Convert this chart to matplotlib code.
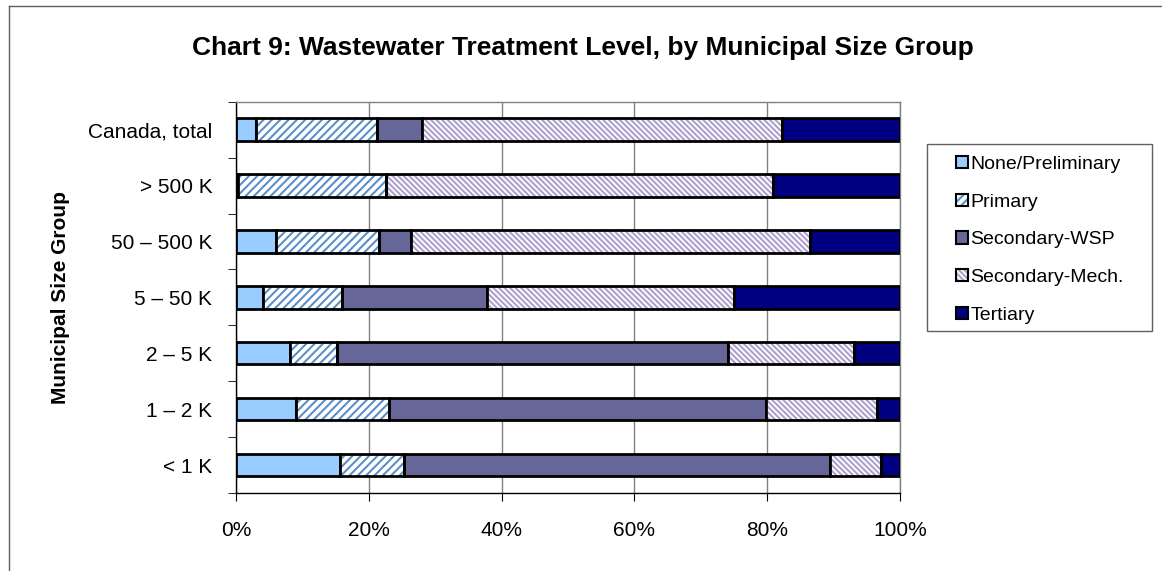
import numpy as np
import matplotlib
matplotlib.use("Agg")
import matplotlib.pyplot as plt
from matplotlib.patches import Patch, Rectangle
from matplotlib.lines import Line2D

plt.rcParams['font.family'] = ['Liberation Sans', 'DejaVu Sans']
plt.rcParams['hatch.linewidth'] = 1.5

# categories from top to bottom
groups = ["Canada, total", "> 500 K", "50 – 500 K", "5 – 50 K", "2 – 5 K", "1 – 2 K", "< 1 K"]
series = ["None/Preliminary", "Primary", "Secondary-WSP", "Secondary-Mech.", "Tertiary"]

# percent shares
none_prelim = [3.0, 0.3, 6.0, 4.0, 8.1, 9.0, 15.7]
primary     = [18.2, 22.3, 15.5, 11.9, 7.1, 14.0, 9.6]
sec_wsp     = [6.8, 0.0, 4.9, 21.9, 58.9, 56.8, 64.2]
sec_mech    = [54.3, 58.3, 60.0, 37.2, 19.0, 16.8, 7.7]
tertiary    = [17.7, 19.1, 13.6, 25.0, 6.9, 3.4, 2.8]

values = [none_prelim, primary, sec_wsp, sec_mech, tertiary]
faces = ["#99CCFF", "white", "#666699", "white", "#000080"]
hatches = [None, "////", None, "\\\\\\\\\\\\", None]
hatch_cols = [None, "#5B8FC9", None, "#ADA0CC", None]

W, H = 1162, 571
fig = plt.figure(figsize=(W/100, H/100), dpi=100)
ax = fig.add_axes([236/W, 1-493/H, (900-236)/W, (493-101.7)/H])

y = np.arange(len(groups))[::-1]
left = np.zeros(len(groups))
for vals, fc, h, hc in zip(values, faces, hatches, hatch_cols):
    vals = np.array(vals)
    if h:
        ax.barh(y, vals, left=left, height=0.4, color=fc, hatch=h,
                edgecolor=hc, linewidth=0, zorder=3)
        ax.barh(y, vals, left=left, height=0.4, fill=False,
                edgecolor="black", linewidth=2, zorder=4)
    else:
        ax.barh(y, vals, left=left, height=0.4, color=fc,
                edgecolor="black", linewidth=2, zorder=3)
    left += vals

ax.set_xlim(0, 100)
ax.set_ylim(-0.5, len(groups) - 0.5)
ax.set_xticks(np.arange(0, 101, 20))
ax.set_xticklabels([f"{v}%" for v in range(0, 101, 20)], fontsize=15)
ax.set_yticks(y)
ax.set_yticklabels(groups, fontsize=15)
ax.set_yticks(np.arange(-0.5, len(groups), 1), minor=True)
ax.tick_params(axis='y', which='major', length=0, pad=17)
ax.tick_params(axis='y', which='minor', length=6, direction='out', color='black')
ax.tick_params(axis='x', length=6, direction='out', pad=14, color='black')
ax.grid(axis='x', color='#808080', linewidth=1, zorder=0)
ax.set_axisbelow(True)
for s in ['top', 'right']:
    ax.spines[s].set_color('#808080')
    ax.spines[s].set_linewidth(1)
for s in ['left', 'bottom']:
    ax.spines[s].set_color('black')
    ax.spines[s].set_linewidth(1)

fig.text(583/W, 1-48/H, "Chart 9: Wastewater Treatment Level, by Municipal Size Group",
         ha='center', va='center', fontsize=19, fontweight='bold')
fig.text(60/W, 1-297/H, "Municipal Size Group", rotation=90,
         ha='center', va='center', fontsize=15, fontweight='bold')

# outer chart frame
fig.add_artist(Line2D([9/W, 9/W], [0, 1-6/H], transform=fig.transFigure,
                      color='#606060', linewidth=1))
fig.add_artist(Line2D([9/W, 1], [1-6/H, 1-6/H], transform=fig.transFigure,
                      color='#606060', linewidth=1))

# legend frame
fig.add_artist(Rectangle((927/W, 1-331/H), (1152-927)/W, (331-144)/H,
                         transform=fig.transFigure, fill=False,
                         edgecolor='#606060', linewidth=1))

handles = []
for lab, fc, h, hc in zip(series, faces, hatches, hatch_cols):
    if h:
        handles.append((Patch(facecolor='white', hatch=h, edgecolor=hc, linewidth=0),
                        Patch(fill=False, edgecolor='black', linewidth=1.5)))
    else:
        handles.append(Patch(facecolor=fc, edgecolor='black', linewidth=1.5))
leg = fig.legend(handles=handles, labels=series, loc='upper left',
                 bbox_to_anchor=(956/W, 1-156/H), borderaxespad=0,
                 fontsize=14, frameon=False,
                 handlelength=0.6, handleheight=0.6, handletextpad=0.15,
                 labelspacing=1.06, borderpad=0)

fig.savefig("out.png", dpi=100)
